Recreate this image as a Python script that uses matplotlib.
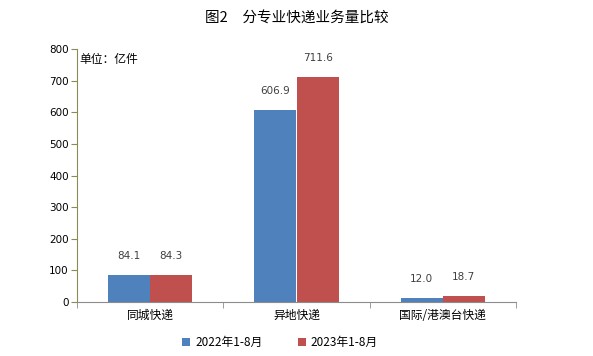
import numpy as np
import matplotlib
matplotlib.use("Agg")
import matplotlib.pyplot as plt

plt.rcParams["font.family"] = ["Noto Sans CJK SC", "DejaVu Sans"]

categories = ["同城快递", "异地快递", "国际/港澳台快递"]
series_names = ["2022年1-8月", "2023年1-8月"]
vals_2022 = [84.1, 606.9, 12.0]
vals_2023 = [84.3, 711.6, 18.7]
colors = ["#4F81BD", "#C0504D"]

fig = plt.figure(figsize=(5.93, 3.56), dpi=100)
ax = fig.add_axes([0.130, 0.152, 0.740, 0.710])

x = np.arange(len(categories))
w = 0.288
for off, vals, c, name in [(-w / 2, vals_2022, colors[0], series_names[0]),
                           (w / 2, vals_2023, colors[1], series_names[1])]:
    bars = ax.bar(x + off, vals, width=w, color=c, label=name, zorder=2)
    for b, v in zip(bars, vals):
        ax.annotate(f"{v:.1f}", (b.get_x() + b.get_width() / 2, v),
                    xytext=(0, 10), textcoords="offset points",
                    ha="center", va="bottom", fontsize=7.5, color="#404040",
                    family="DejaVu Sans")

ax.set_xlim(-0.5, 2.5)
ax.set_ylim(0, 800)
ax.set_yticks(range(0, 801, 100))
ax.tick_params(axis="y", direction="out", length=4, color="#8B8B5A",
               labelsize=7.5, pad=2)
ax.set_xticks(x)
ax.set_xticklabels(categories, fontsize=8.5)
ax.tick_params(axis="x", length=0, pad=5)
# category separator ticks on the x axis
ax.set_xticks([-0.5, 0.5, 1.5, 2.5], minor=True)
ax.tick_params(axis="x", which="minor", direction="out", length=4,
               color="#8C8C8C")
for lab in ax.get_yticklabels():
    lab.set_family("DejaVu Sans")

ax.spines["top"].set_visible(False)
ax.spines["right"].set_visible(False)
ax.spines["left"].set_color("#8B8B5A")
ax.spines["bottom"].set_color("#8C8C8C")

ax.text(0.005, 0.985, "单位：亿件", transform=ax.transAxes, ha="left",
        va="top", fontsize=8.5)

fig.text(0.5, 0.95, "图2　分专业快递业务量比较", ha="center", va="center",
         fontsize=10.5, fontweight="medium")

fig.legend(loc="center", bbox_to_anchor=(0.472, 0.038), ncol=2, frameon=False,
           fontsize=8.5, handlelength=0.7, handleheight=0.7, columnspacing=3,
           handletextpad=0.4)

fig.savefig("out.png", dpi=100, facecolor="white")
